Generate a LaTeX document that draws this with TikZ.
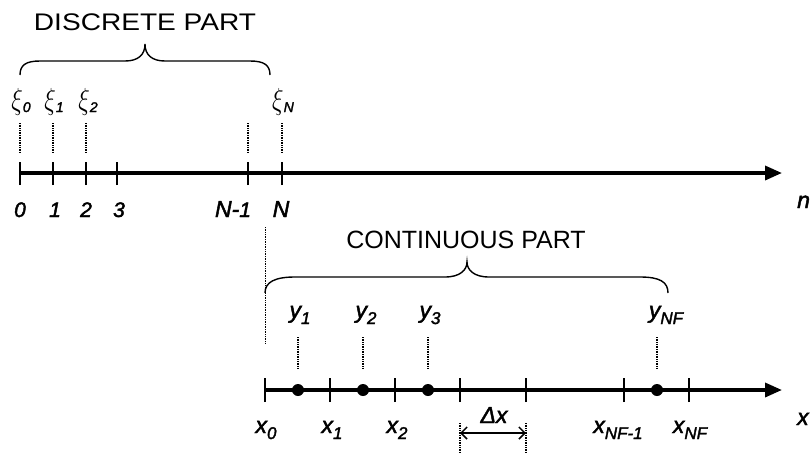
\documentclass[tikz,border=0pt]{standalone}
\usepackage{fontspec}
\setmainfont{Liberation Sans}
\newfontfamily\lblfont{Liberation Sans}[FakeBold=2]
\usetikzlibrary{arrows.meta}
\newcommand\labsub[2]{#1\raisebox{-6pt}{\fontsize{17}{17}\selectfont #2}}
\newcommand\xisub[1]{\resizebox*{11.5pt}{27pt}{$\xi$}\raisebox{-3pt}{\fontsize{14}{14}\selectfont #1}}
\begin{document}
\begin{tikzpicture}[x=1pt,y=-1pt,
  axisline/.style={line width=3.5pt,-{Triangle[length=17pt,width=14pt]}},
  tickline/.style={line width=1.3pt},
  guideline/.style={line width=1.1pt,dash pattern=on 1pt off 0.7pt},
  braceline/.style={line width=1.4pt},
  lbl/.style={font=\lblfont\fontsize{23}{23}\selectfont\itshape,inner sep=0pt,anchor=base},
  digit/.style={font=\lblfont\fontsize{21}{21}\selectfont\itshape,inner sep=0pt,anchor=base},
  grk/.style={font=\lblfont\fontsize{23}{23}\selectfont\itshape,inner sep=0pt,anchor=base},
  ttl/.style={font=\fontsize{24}{24}\selectfont,inner sep=0pt,anchor=base},
  dotnode/.style={circle,fill=black,inner sep=0pt,minimum size=12pt}]
\useasboundingbox (0,0) rectangle (812,453);

% ---------- discrete part ----------
\node[ttl] (dtitle) at (145,30) {\scalebox{1.17}[1]{DISCRETE PART}};
\draw[braceline] (20,75) .. controls (20,65) and (26,61) .. (40,61) -- (125,61)
  .. controls (138,61) and (145,55) .. (145,44)
  .. controls (145,55) and (152,61) .. (165,61) -- (250,61)
  .. controls (264,61) and (270,65) .. (270,75);

\coordinate (n0) at (20,173);
\coordinate (nend) at (782,173);
\draw[axisline] (n0) -- (nend);
\foreach \i/\x in {0/20,1/53,2/86,3/117,m/248,N/282}{
  \coordinate (t\i) at (\x,173);
  \draw[tickline] ([yshift=-12pt]t\i) -- ([yshift=11pt]t\i);
}
\foreach \i in {0,1,2,m,N}{
  \draw[guideline] ([yshift=50pt]t\i) -- ([yshift=21pt]t\i);
}
\node[grk] (xi0) at (21,109) {\xisub{0}};
\node[grk] (xi1) at (54,109) {\xisub{1}};
\node[grk] (xi2) at (88,109) {\xisub{2}};
\node[grk] (xiN) at (283,109) {\xisub{N}};

\node[digit] (d0) at (20,217) {0};
\node[digit] (d1) at (55,217) {1};
\node[digit] (d2) at (86,217) {2};
\node[digit] (d3) at (119,217) {3};
\node[lbl] (dm) at (233,217) {N-\fontsize{21}{21}\selectfont 1};
\node[lbl] (dN) at (281,217) {N};
\node[lbl,anchor=base west] (nlab) at (797,208) {n};

% ---------- continuous part ----------
\node[ttl,font=\fontsize{25}{25}\selectfont] (ctitle) at (466,248) {CONTINUOUS PART};
\draw[braceline] (265,293) .. controls (265,282) and (275,277) .. (295,277) -- (445,277)
  .. controls (460,277) and (467,270) .. (467,262)
  .. controls (467,270) and (474,277) .. (489,277) -- (640,277)
  .. controls (660,277) and (668,282) .. (668,293);
\coordinate (ctop) at (265,227);
\coordinate (cbot) at (265,343);
\draw[guideline,line width=0.9pt] (ctop) -- (cbot);

\coordinate (x0) at (265,390);
\coordinate (xend) at (782,390);
\draw[axisline] (x0) -- (xend);
\foreach \i/\x in {0/265,1/330,2/395,3/460,4/526,5/624,6/689}{
  \coordinate (u\i) at (\x,390);
  \draw[tickline] ([yshift=-12pt]u\i) -- ([yshift=12pt]u\i);
}
\foreach \i/\x in {1/298,2/363,3/428,4/657}{
  \node[dotnode] (p\i) at (\x,390) {};
  \draw[guideline] (\x,337) -- (\x,368);
}
\node[lbl] (y1) at (300,318) {\labsub{y}{1}};
\node[lbl] (y2) at (366,318) {\labsub{y}{2}};
\node[lbl] (y3) at (430,318) {\labsub{y}{3}};
\node[lbl] (yNF) at (666,318) {\labsub{y}{NF}};

\node[lbl] (xl0) at (266,433) {\labsub{x}{0}};
\node[lbl] (xl1) at (332,433) {\labsub{x}{1}};
\node[lbl] (xl2) at (397,433) {\labsub{x}{2}};
\node[lbl] (xlm) at (618,433) {\labsub{x}{NF-1}};
\node[lbl] (xlN) at (690,433) {\labsub{x}{NF}};
\node[lbl,anchor=base west] (xlab) at (797,425) {x};

\coordinate (da) at (460,433);
\coordinate (db) at (526,433);
\draw[guideline] (460,423) -- (460,453);
\draw[guideline] (526,423) -- (526,453);
\draw[line width=1.5pt,{Straight Barb[length=6pt,width=12pt]}-{Straight Barb[length=6pt,width=12pt]}] (da) -- (db);
\node[lbl] (dx) at (494,423) {Δx};
\end{tikzpicture}
\end{document}
